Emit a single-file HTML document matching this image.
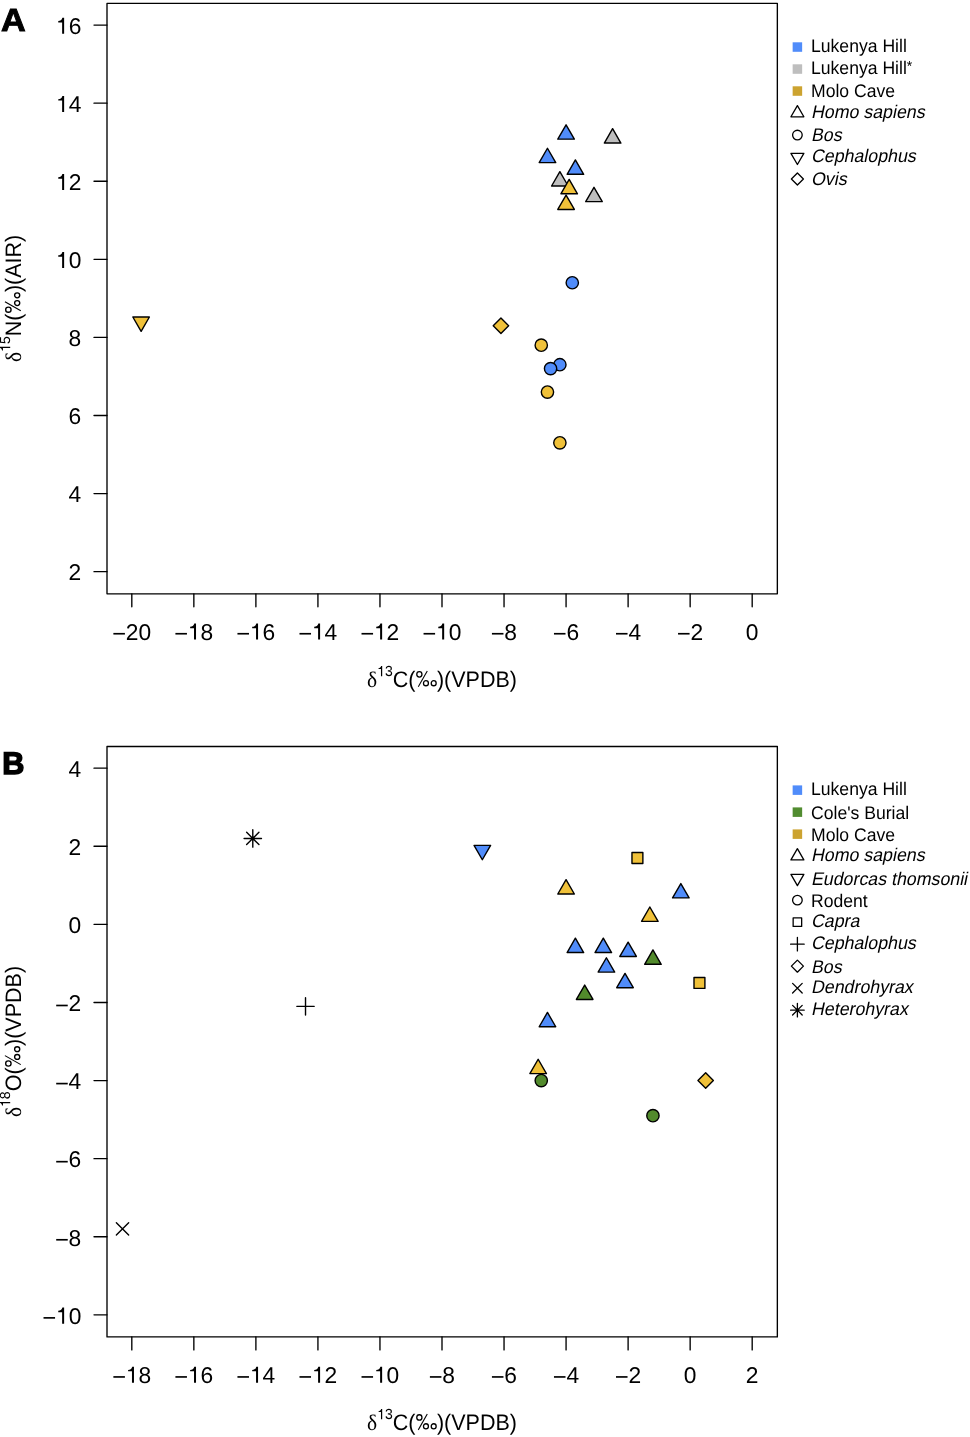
<!DOCTYPE html><html><head><meta charset="utf-8"><title>Isotope plots</title><style>html,body{margin:0;padding:0;background:#fff;}svg{display:block;will-change:transform;}text{font-family:"Liberation Sans", sans-serif;fill:#000;text-rendering:geometricPrecision;}</style></head><body>
<svg width="970" height="1437" viewBox="0 0 970 1437">
<rect width="970" height="1437" fill="#fff"/>
<rect x="107" y="3.4" width="670.35" height="590.45" fill="none" stroke="#000" stroke-width="1.35" stroke-linejoin="round"/>
<path d="M131.81 593.85V606.85M193.85 593.85V606.85M255.89 593.85V606.85M317.93 593.85V606.85M379.96 593.85V606.85M442 593.85V606.85M504.04 593.85V606.85M566.07 593.85V606.85M628.11 593.85V606.85M690.15 593.85V606.85M752.19 593.85V606.85M107 571.64H94M107 493.56H94M107 415.47H94M107 337.39H94M107 259.31H94M107 181.23H94M107 103.14H94M107 25.06H94" stroke="#000" stroke-width="1.35" stroke-linecap="round" fill="none"/>
<rect x="113.37" y="632.91" width="11.54" height="1.66"/>
<text transform="translate(125.8 639.5) scale(1 1.0)" font-size="22.8">20</text>
<rect x="175.41" y="632.91" width="11.54" height="1.66"/>
<text transform="translate(187.83 639.5) scale(1 1.0)" font-size="22.8"> 8</text>
<path d="M196.02 639.5 L194.01 639.5 L194.01 628.17 L190.14 628.17 L190.14 626.73 C192.12 626.66 193.72 625.82 194.26 623.47 L196.02 623.47 Z"/>
<rect x="237.44" y="632.91" width="11.54" height="1.66"/>
<text transform="translate(249.87 639.5) scale(1 1.0)" font-size="22.8"> 6</text>
<path d="M258.05 639.5 L256.05 639.5 L256.05 628.17 L252.17 628.17 L252.17 626.73 C254.16 626.66 255.75 625.82 256.3 623.47 L258.05 623.47 Z"/>
<rect x="299.48" y="632.91" width="11.54" height="1.66"/>
<text transform="translate(311.91 639.5) scale(1 1.0)" font-size="22.8"> 4</text>
<path d="M320.09 639.5 L318.09 639.5 L318.09 628.17 L314.21 628.17 L314.21 626.73 C316.19 626.66 317.79 625.82 318.34 623.47 L320.09 623.47 Z"/>
<rect x="361.52" y="632.91" width="11.54" height="1.66"/>
<text transform="translate(373.94 639.5) scale(1 1.0)" font-size="22.8"> 2</text>
<path d="M382.13 639.5 L380.12 639.5 L380.12 628.17 L376.25 628.17 L376.25 626.73 C378.23 626.66 379.83 625.82 380.37 623.47 L382.13 623.47 Z"/>
<rect x="423.55" y="632.91" width="11.54" height="1.66"/>
<text transform="translate(435.98 639.5) scale(1 1.0)" font-size="22.8"> 0</text>
<path d="M444.17 639.5 L442.16 639.5 L442.16 628.17 L438.28 628.17 L438.28 626.73 C440.27 626.66 441.86 625.82 442.41 623.47 L444.17 623.47 Z"/>
<rect x="491.93" y="632.91" width="11.54" height="1.66"/>
<text transform="translate(504.36 639.5) scale(1 1.0)" font-size="22.8">8</text>
<rect x="553.97" y="632.91" width="11.54" height="1.66"/>
<text transform="translate(566.39 639.5) scale(1 1.0)" font-size="22.8">6</text>
<rect x="616" y="632.91" width="11.54" height="1.66"/>
<text transform="translate(628.43 639.5) scale(1 1.0)" font-size="22.8">4</text>
<rect x="678.04" y="632.91" width="11.54" height="1.66"/>
<text transform="translate(690.47 639.5) scale(1 1.0)" font-size="22.8">2</text>
<text transform="translate(745.85 639.5) scale(1 1.0)" font-size="22.8">0</text>
<text transform="translate(68.62 580.44) scale(1 1.0)" font-size="22.8">2</text>
<text transform="translate(68.62 502.36) scale(1 1.0)" font-size="22.8">4</text>
<text transform="translate(68.62 424.27) scale(1 1.0)" font-size="22.8">6</text>
<text transform="translate(68.62 346.19) scale(1 1.0)" font-size="22.8">8</text>
<text transform="translate(55.95 268.11) scale(1 1.0)" font-size="22.8"> 0</text>
<path d="M64.13 268.11 L62.13 268.11 L62.13 256.78 L58.25 256.78 L58.25 255.34 C60.23 255.27 61.83 254.43 62.38 252.08 L64.13 252.08 Z"/>
<text transform="translate(55.95 190.03) scale(1 1.0)" font-size="22.8"> 2</text>
<path d="M64.13 190.03 L62.13 190.03 L62.13 178.7 L58.25 178.7 L58.25 177.26 C60.23 177.19 61.83 176.35 62.38 174 L64.13 174 Z"/>
<text transform="translate(55.95 111.94) scale(1 1.0)" font-size="22.8"> 4</text>
<path d="M64.13 111.94 L62.13 111.94 L62.13 100.61 L58.25 100.61 L58.25 99.18 C60.23 99.11 61.83 98.26 62.38 95.92 L64.13 95.92 Z"/>
<text transform="translate(55.95 33.86) scale(1 1.0)" font-size="22.8"> 6</text>
<path d="M64.13 33.86 L62.13 33.86 L62.13 22.53 L58.25 22.53 L58.25 21.09 C60.23 21.03 61.83 20.18 62.38 17.83 L64.13 17.83 Z"/>
<g transform="translate(442 686.8) scale(1 1.04)">
<text text-anchor="middle" font-size="21.5"><tspan font-family='"Liberation Serif", serif'>δ</tspan><tspan font-size="14" dy="-10.2"> 3</tspan><tspan dy="10.2">C( )(VPDB)</tspan></text>
<circle cx="-22.64" cy="-11.95" r="2.6" fill="none" stroke="#000" stroke-width="1.29"/>
<circle cx="-16.06" cy="-3.48" r="2.47" fill="none" stroke="#000" stroke-width="1.29"/>
<circle cx="-8.3" cy="-3.48" r="2.47" fill="none" stroke="#000" stroke-width="1.29"/>
<path d="M-14.73 -15.24L-23.72 0" stroke="#000" stroke-width="1.07" fill="none"/>
<path d="M-59.8 -10.2 L-61.03 -10.2 L-61.03 -17.16 L-63.41 -17.16 L-63.41 -18.04 C-62.2 -18.08 -61.22 -18.6 -60.88 -20.04 L-59.8 -20.04 Z"/>
</g>
<g transform="translate(20.8 298.35) rotate(-90) scale(1 1.04)">
<text text-anchor="middle" font-size="21.5"><tspan font-family='"Liberation Serif", serif'>δ</tspan><tspan font-size="14" dy="-10.2"> 5</tspan><tspan dy="10.2">N( )(AIR)</tspan></text>
<circle cx="-11.29" cy="-11.95" r="2.6" fill="none" stroke="#000" stroke-width="1.29"/>
<circle cx="-4.71" cy="-3.48" r="2.47" fill="none" stroke="#000" stroke-width="1.29"/>
<circle cx="3.05" cy="-3.48" r="2.47" fill="none" stroke="#000" stroke-width="1.29"/>
<path d="M-3.38 -15.24L-12.37 0" stroke="#000" stroke-width="1.07" fill="none"/>
<path d="M-48.45 -10.2 L-49.68 -10.2 L-49.68 -17.16 L-52.06 -17.16 L-52.06 -18.04 C-50.84 -18.08 -49.86 -18.6 -49.53 -20.04 L-48.45 -20.04 Z"/>
</g>
<text transform="translate(1.04 31.05) scale(1.11 1.04)" font-size="30.8" font-weight="bold" stroke="#000" stroke-width="0.9" stroke-linejoin="miter">A</text>
<polygon points="612.6,128.72 620.88,143.06 604.32,143.06" fill="#bebebe" stroke="#000" stroke-width="1.4" stroke-linejoin="round"/>
<polygon points="559.87,171.66 568.15,186.01 551.59,186.01" fill="#bebebe" stroke="#000" stroke-width="1.4" stroke-linejoin="round"/>
<polygon points="593.99,187.28 602.27,201.63 585.71,201.63" fill="#bebebe" stroke="#000" stroke-width="1.4" stroke-linejoin="round"/>
<polygon points="566.07,124.81 574.36,139.16 557.79,139.16" fill="#508cfa" stroke="#000" stroke-width="1.4" stroke-linejoin="round"/>
<polygon points="547.46,148.24 555.75,162.58 539.18,162.58" fill="#508cfa" stroke="#000" stroke-width="1.4" stroke-linejoin="round"/>
<polygon points="575.38,159.95 583.66,174.3 567.1,174.3" fill="#508cfa" stroke="#000" stroke-width="1.4" stroke-linejoin="round"/>
<circle cx="572.28" cy="282.73" r="6.15" fill="#508cfa" stroke="#000" stroke-width="1.4" stroke-linejoin="round"/>
<circle cx="559.87" cy="364.72" r="6.15" fill="#508cfa" stroke="#000" stroke-width="1.4" stroke-linejoin="round"/>
<circle cx="550.56" cy="368.62" r="6.15" fill="#508cfa" stroke="#000" stroke-width="1.4" stroke-linejoin="round"/>
<polygon points="569.18,179.47 577.46,193.82 560.89,193.82" fill="#f0c139" stroke="#000" stroke-width="1.4" stroke-linejoin="round"/>
<polygon points="566.07,195.09 574.36,209.43 557.79,209.43" fill="#f0c139" stroke="#000" stroke-width="1.4" stroke-linejoin="round"/>
<circle cx="541.26" cy="345.2" r="6.15" fill="#f0c139" stroke="#000" stroke-width="1.4" stroke-linejoin="round"/>
<circle cx="547.46" cy="392.05" r="6.15" fill="#f0c139" stroke="#000" stroke-width="1.4" stroke-linejoin="round"/>
<circle cx="559.87" cy="442.8" r="6.15" fill="#f0c139" stroke="#000" stroke-width="1.4" stroke-linejoin="round"/>
<polygon points="500.94,317.97 508.64,325.68 500.94,333.39 493.23,325.68" fill="#f0c139" stroke="#000" stroke-width="1.4" stroke-linejoin="round"/>
<polygon points="141.12,331.34 149.4,316.99 132.84,316.99" fill="#f0c139" stroke="#000" stroke-width="1.4" stroke-linejoin="round"/>
<rect x="792.65" y="42.3" width="9.5" height="9.5" fill="#508cfa"/>
<text transform="translate(811 51.75) scale(1 1.04)" font-size="17.6">Lukenya Hill</text>
<rect x="792.65" y="64.3" width="9.5" height="9.5" fill="#bebebe"/>
<text transform="translate(811 73.75) scale(1 1.04)" font-size="17.6">Lukenya Hill<tspan font-size="14" dy="-2.74">*</tspan></text>
<rect x="792.65" y="86.3" width="9.5" height="9.5" fill="#cca330"/>
<text transform="translate(811 97.45) scale(1 1.04)" font-size="17.6">Molo Cave</text>
<polygon points="797.4,105.59 803.86,116.78 790.94,116.78" fill="none" stroke="#000" stroke-width="1.3" stroke-linejoin="round"/>
<text transform="translate(811 117.75) scale(1.01 1.04) skewX(-12)" font-size="17.6">Homo sapiens</text>
<circle cx="797.4" cy="135.05" r="4.8" fill="none" stroke="#000" stroke-width="1.3" stroke-linejoin="round"/>
<text transform="translate(811 141.45) scale(1.01 1.04) skewX(-12)" font-size="17.6">Bos</text>
<polygon points="797.4,164.51 803.86,153.32 790.94,153.32" fill="none" stroke="#000" stroke-width="1.3" stroke-linejoin="round"/>
<text transform="translate(811 161.75) scale(1.01 1.04) skewX(-12)" font-size="17.6">Cephalophus</text>
<polygon points="797.4,173.03 803.42,179.05 797.4,185.07 791.38,179.05" fill="none" stroke="#000" stroke-width="1.3" stroke-linejoin="round"/>
<text transform="translate(811 185.45) scale(1.01 1.04) skewX(-12)" font-size="17.6">Ovis</text>
<rect x="107" y="746.45" width="670.35" height="590.45" fill="none" stroke="#000" stroke-width="1.35" stroke-linejoin="round"/>
<path d="M131.81 1336.9V1349.9M193.85 1336.9V1349.9M255.89 1336.9V1349.9M317.93 1336.9V1349.9M379.96 1336.9V1349.9M442 1336.9V1349.9M504.04 1336.9V1349.9M566.07 1336.9V1349.9M628.11 1336.9V1349.9M690.15 1336.9V1349.9M752.19 1336.9V1349.9M107 1314.83H94M107 1236.74H94M107 1158.64H94M107 1080.55H94M107 1002.45H94M107 924.36H94M107 846.26H94M107 768.17H94" stroke="#000" stroke-width="1.35" stroke-linecap="round" fill="none"/>
<rect x="113.37" y="1376.11" width="11.54" height="1.66"/>
<text transform="translate(125.8 1382.7) scale(1 1.0)" font-size="22.8"> 8</text>
<path d="M133.98 1382.7 L131.97 1382.7 L131.97 1371.37 L128.1 1371.37 L128.1 1369.93 C130.08 1369.86 131.68 1369.02 132.23 1366.67 L133.98 1366.67 Z"/>
<rect x="175.41" y="1376.11" width="11.54" height="1.66"/>
<text transform="translate(187.83 1382.7) scale(1 1.0)" font-size="22.8"> 6</text>
<path d="M196.02 1382.7 L194.01 1382.7 L194.01 1371.37 L190.14 1371.37 L190.14 1369.93 C192.12 1369.86 193.72 1369.02 194.26 1366.67 L196.02 1366.67 Z"/>
<rect x="237.44" y="1376.11" width="11.54" height="1.66"/>
<text transform="translate(249.87 1382.7) scale(1 1.0)" font-size="22.8"> 4</text>
<path d="M258.05 1382.7 L256.05 1382.7 L256.05 1371.37 L252.17 1371.37 L252.17 1369.93 C254.16 1369.86 255.75 1369.02 256.3 1366.67 L258.05 1366.67 Z"/>
<rect x="299.48" y="1376.11" width="11.54" height="1.66"/>
<text transform="translate(311.91 1382.7) scale(1 1.0)" font-size="22.8"> 2</text>
<path d="M320.09 1382.7 L318.09 1382.7 L318.09 1371.37 L314.21 1371.37 L314.21 1369.93 C316.19 1369.86 317.79 1369.02 318.34 1366.67 L320.09 1366.67 Z"/>
<rect x="361.52" y="1376.11" width="11.54" height="1.66"/>
<text transform="translate(373.94 1382.7) scale(1 1.0)" font-size="22.8"> 0</text>
<path d="M382.13 1382.7 L380.12 1382.7 L380.12 1371.37 L376.25 1371.37 L376.25 1369.93 C378.23 1369.86 379.83 1369.02 380.37 1366.67 L382.13 1366.67 Z"/>
<rect x="429.89" y="1376.11" width="11.54" height="1.66"/>
<text transform="translate(442.32 1382.7) scale(1 1.0)" font-size="22.8">8</text>
<rect x="491.93" y="1376.11" width="11.54" height="1.66"/>
<text transform="translate(504.36 1382.7) scale(1 1.0)" font-size="22.8">6</text>
<rect x="553.97" y="1376.11" width="11.54" height="1.66"/>
<text transform="translate(566.39 1382.7) scale(1 1.0)" font-size="22.8">4</text>
<rect x="616" y="1376.11" width="11.54" height="1.66"/>
<text transform="translate(628.43 1382.7) scale(1 1.0)" font-size="22.8">2</text>
<text transform="translate(683.81 1382.7) scale(1 1.0)" font-size="22.8">0</text>
<text transform="translate(745.85 1382.7) scale(1 1.0)" font-size="22.8">2</text>
<rect x="43.52" y="1317.04" width="11.54" height="1.66"/>
<text transform="translate(55.95 1323.63) scale(1 1.0)" font-size="22.8"> 0</text>
<path d="M64.13 1323.63 L62.13 1323.63 L62.13 1312.3 L58.25 1312.3 L58.25 1310.87 C60.23 1310.8 61.83 1309.95 62.38 1307.6 L64.13 1307.6 Z"/>
<rect x="56.2" y="1238.95" width="11.54" height="1.66"/>
<text transform="translate(68.62 1245.54) scale(1 1.0)" font-size="22.8">8</text>
<rect x="56.2" y="1160.85" width="11.54" height="1.66"/>
<text transform="translate(68.62 1167.44) scale(1 1.0)" font-size="22.8">6</text>
<rect x="56.2" y="1082.76" width="11.54" height="1.66"/>
<text transform="translate(68.62 1089.35) scale(1 1.0)" font-size="22.8">4</text>
<rect x="56.2" y="1004.66" width="11.54" height="1.66"/>
<text transform="translate(68.62 1011.25) scale(1 1.0)" font-size="22.8">2</text>
<text transform="translate(68.62 933.16) scale(1 1.0)" font-size="22.8">0</text>
<text transform="translate(68.62 855.06) scale(1 1.0)" font-size="22.8">2</text>
<text transform="translate(68.62 776.97) scale(1 1.0)" font-size="22.8">4</text>
<g transform="translate(442 1429.9) scale(1 1.04)">
<text text-anchor="middle" font-size="21.5"><tspan font-family='"Liberation Serif", serif'>δ</tspan><tspan font-size="14" dy="-10.2"> 3</tspan><tspan dy="10.2">C( )(VPDB)</tspan></text>
<circle cx="-22.64" cy="-11.95" r="2.6" fill="none" stroke="#000" stroke-width="1.29"/>
<circle cx="-16.06" cy="-3.48" r="2.47" fill="none" stroke="#000" stroke-width="1.29"/>
<circle cx="-8.3" cy="-3.48" r="2.47" fill="none" stroke="#000" stroke-width="1.29"/>
<path d="M-14.73 -15.24L-23.72 0" stroke="#000" stroke-width="1.07" fill="none"/>
<path d="M-59.8 -10.2 L-61.03 -10.2 L-61.03 -17.16 L-63.41 -17.16 L-63.41 -18.04 C-62.2 -18.08 -61.22 -18.6 -60.88 -20.04 L-59.8 -20.04 Z"/>
</g>
<g transform="translate(20.8 1041.5) rotate(-90) scale(1 1.04)">
<text text-anchor="middle" font-size="21.5"><tspan font-family='"Liberation Serif", serif'>δ</tspan><tspan font-size="14" dy="-10.2"> 8</tspan><tspan dy="10.2">O( )(VPDB)</tspan></text>
<circle cx="-22.04" cy="-11.95" r="2.6" fill="none" stroke="#000" stroke-width="1.29"/>
<circle cx="-15.46" cy="-3.48" r="2.47" fill="none" stroke="#000" stroke-width="1.29"/>
<circle cx="-7.7" cy="-3.48" r="2.47" fill="none" stroke="#000" stroke-width="1.29"/>
<path d="M-14.13 -15.24L-23.12 0" stroke="#000" stroke-width="1.07" fill="none"/>
<path d="M-60.4 -10.2 L-61.64 -10.2 L-61.64 -17.16 L-64.02 -17.16 L-64.02 -18.04 C-62.8 -18.08 -61.82 -18.6 -61.48 -20.04 L-60.4 -20.04 Z"/>
</g>
<text transform="translate(2.14 774) scale(1.02 1.04)" font-size="30.1" font-weight="bold" stroke="#000" stroke-width="1.4" stroke-linejoin="miter">B</text>
<polygon points="482.32,859.73 490.61,845.38 474.04,845.38" fill="#508cfa" stroke="#000" stroke-width="1.4" stroke-linejoin="round"/>
<polygon points="680.84,883.56 689.13,897.9 672.56,897.9" fill="#508cfa" stroke="#000" stroke-width="1.4" stroke-linejoin="round"/>
<polygon points="575.38,938.22 583.66,952.57 567.1,952.57" fill="#508cfa" stroke="#000" stroke-width="1.4" stroke-linejoin="round"/>
<polygon points="603.3,938.22 611.58,952.57 595.01,952.57" fill="#508cfa" stroke="#000" stroke-width="1.4" stroke-linejoin="round"/>
<polygon points="628.11,942.13 636.39,956.47 619.83,956.47" fill="#508cfa" stroke="#000" stroke-width="1.4" stroke-linejoin="round"/>
<polygon points="606.4,957.75 614.68,972.09 598.12,972.09" fill="#508cfa" stroke="#000" stroke-width="1.4" stroke-linejoin="round"/>
<polygon points="625.01,973.36 633.29,987.71 616.73,987.71" fill="#508cfa" stroke="#000" stroke-width="1.4" stroke-linejoin="round"/>
<polygon points="547.46,1012.41 555.75,1026.76 539.18,1026.76" fill="#508cfa" stroke="#000" stroke-width="1.4" stroke-linejoin="round"/>
<polygon points="566.07,879.65 574.36,894 557.79,894" fill="#f0c139" stroke="#000" stroke-width="1.4" stroke-linejoin="round"/>
<polygon points="649.82,906.98 658.11,921.33 641.54,921.33" fill="#f0c139" stroke="#000" stroke-width="1.4" stroke-linejoin="round"/>
<polygon points="538.16,1059.27 546.44,1073.62 529.87,1073.62" fill="#f0c139" stroke="#000" stroke-width="1.4" stroke-linejoin="round"/>
<rect x="631.97" y="852.53" width="10.9" height="10.9" fill="#f0c139" stroke="#000" stroke-width="1.4" stroke-linejoin="round"/>
<rect x="694" y="977.48" width="10.9" height="10.9" fill="#f0c139" stroke="#000" stroke-width="1.4" stroke-linejoin="round"/>
<polygon points="705.66,1072.84 713.37,1080.55 705.66,1088.26 697.95,1080.55" fill="#f0c139" stroke="#000" stroke-width="1.4" stroke-linejoin="round"/>
<polygon points="652.93,949.94 661.21,964.28 644.64,964.28" fill="#528a2c" stroke="#000" stroke-width="1.4" stroke-linejoin="round"/>
<polygon points="584.69,985.08 592.97,999.43 576.4,999.43" fill="#528a2c" stroke="#000" stroke-width="1.4" stroke-linejoin="round"/>
<circle cx="541.26" cy="1080.55" r="6.15" fill="#528a2c" stroke="#000" stroke-width="1.4" stroke-linejoin="round"/>
<circle cx="652.93" cy="1115.69" r="6.15" fill="#528a2c" stroke="#000" stroke-width="1.4" stroke-linejoin="round"/>
<path d="M246.64 832.3L258.94 844.6M246.64 844.6L258.94 832.3M244.09 838.45H261.48M252.79 829.76V847.15" stroke="#000" stroke-width="1.4" stroke-linecap="round" fill="none"/>
<path d="M296.82 1006.36H314.22M305.52 997.66V1015.05" stroke="#000" stroke-width="1.4" stroke-linecap="round" fill="none"/>
<path d="M116.36 1222.78L128.66 1235.08M116.36 1235.08L128.66 1222.78" stroke="#000" stroke-width="1.4" stroke-linecap="round" fill="none"/>
<rect x="792.65" y="785.4" width="9.5" height="9.5" fill="#508cfa"/>
<text transform="translate(811 794.85) scale(1 1.04)" font-size="17.6">Lukenya Hill</text>
<rect x="792.65" y="807.4" width="9.5" height="9.5" fill="#518c30"/>
<text transform="translate(811 818.55) scale(1 1.04)" font-size="17.6">Cole's Burial</text>
<rect x="792.65" y="829.4" width="9.5" height="9.5" fill="#cca330"/>
<text transform="translate(811 840.55) scale(1 1.04)" font-size="17.6">Molo Cave</text>
<polygon points="797.4,848.69 803.86,859.88 790.94,859.88" fill="none" stroke="#000" stroke-width="1.3" stroke-linejoin="round"/>
<text transform="translate(811 860.85) scale(1.01 1.04) skewX(-12)" font-size="17.6">Homo sapiens</text>
<polygon points="797.4,885.61 803.86,874.42 790.94,874.42" fill="none" stroke="#000" stroke-width="1.3" stroke-linejoin="round"/>
<text transform="translate(811 884.55) scale(1.01 1.04) skewX(-12)" font-size="17.6">Eudorcas thomsonii</text>
<circle cx="797.4" cy="900.15" r="4.8" fill="none" stroke="#000" stroke-width="1.3" stroke-linejoin="round"/>
<text transform="translate(811 906.55) scale(1 1.04)" font-size="17.6">Rodent</text>
<rect x="793.15" y="917.9" width="8.51" height="8.51" fill="none" stroke="#000" stroke-width="1.3" stroke-linejoin="round"/>
<text transform="translate(811 926.85) scale(1.01 1.04) skewX(-12)" font-size="17.6">Capra</text>
<path d="M790.61 944.15H804.19M797.4 937.36V950.94" stroke="#000" stroke-width="1.3" stroke-linecap="round" fill="none"/>
<text transform="translate(811 948.85) scale(1.01 1.04) skewX(-12)" font-size="17.6">Cephalophus</text>
<polygon points="797.4,960.13 803.42,966.15 797.4,972.17 791.38,966.15" fill="none" stroke="#000" stroke-width="1.3" stroke-linejoin="round"/>
<text transform="translate(811 972.55) scale(1.01 1.04) skewX(-12)" font-size="17.6">Bos</text>
<path d="M792.6 983.35L802.2 992.95M792.6 992.95L802.2 983.35" stroke="#000" stroke-width="1.3" stroke-linecap="round" fill="none"/>
<text transform="translate(811 992.85) scale(1.01 1.04) skewX(-12)" font-size="17.6">Dendrohyrax</text>
<path d="M792.6 1005.35L802.2 1014.95M792.6 1014.95L802.2 1005.35M790.61 1010.15H804.19M797.4 1003.36V1016.94" stroke="#000" stroke-width="1.3" stroke-linecap="round" fill="none"/>
<text transform="translate(811 1014.85) scale(1.01 1.04) skewX(-12)" font-size="17.6">Heterohyrax</text>
</svg></body></html>
